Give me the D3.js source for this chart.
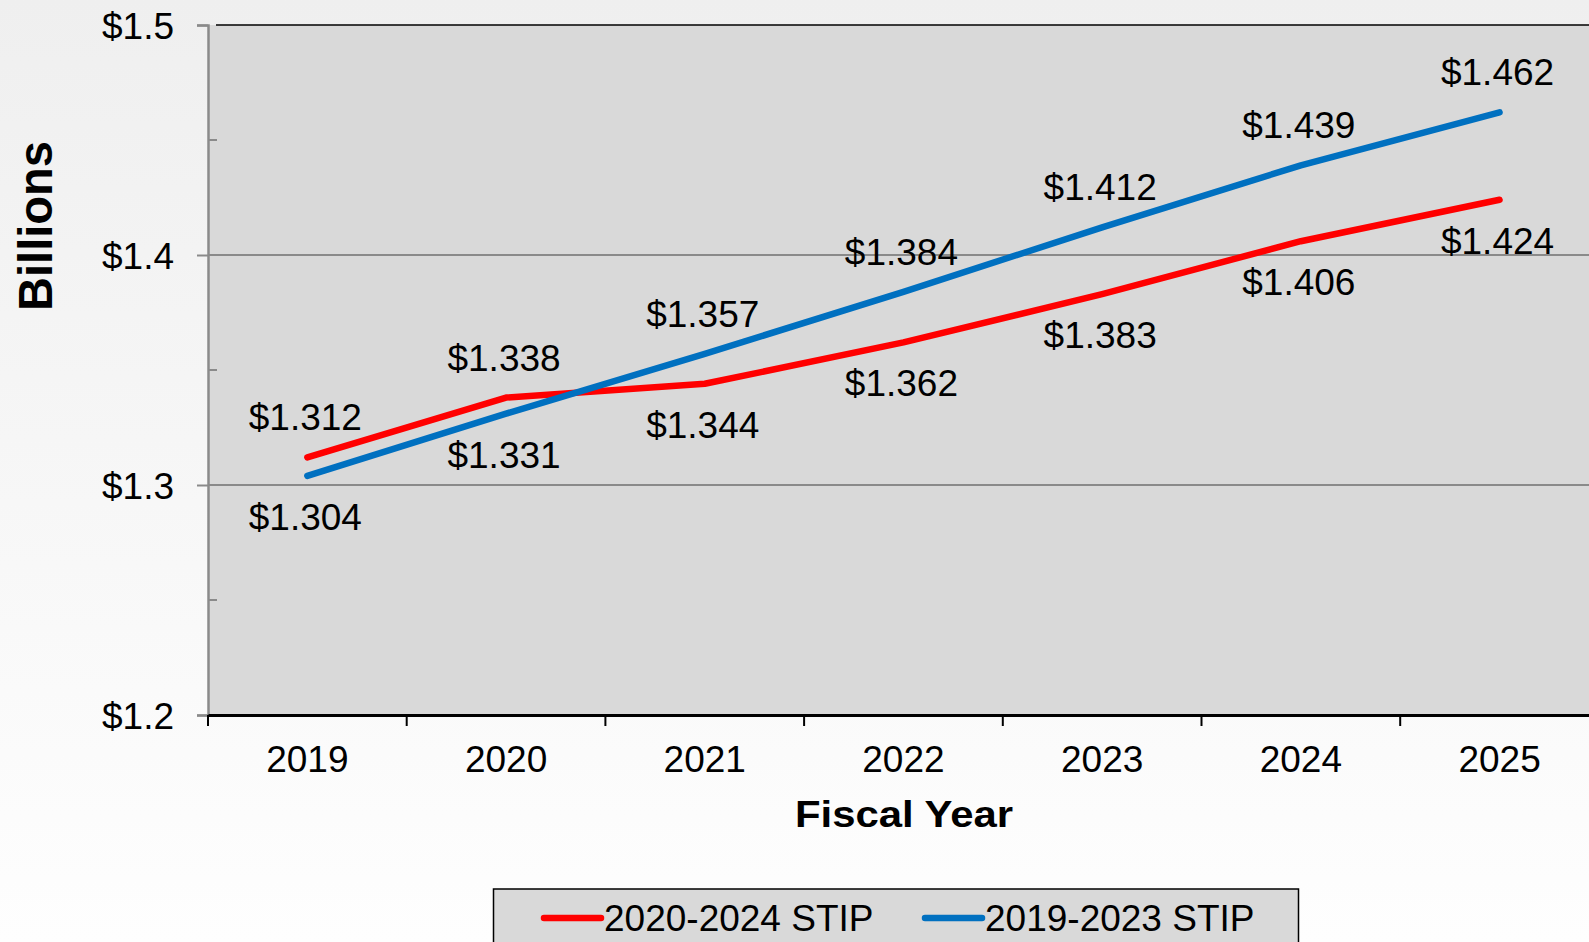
<!DOCTYPE html>
<html>
<head>
<meta charset="utf-8">
<script src="https://cdn.jsdelivr.net/npm/d3@7"></script>
<style>
  html, body { margin: 0; padding: 0; overflow: hidden; }
  text { font-family: "Liberation Sans", Arial, sans-serif; }
</style>
</head>
<body>
<script>
const years = ['2019', '2020', '2021', '2022', '2023', '2024', '2025'];
const stip2020 = [1.312, 1.338, 1.344, 1.362, 1.383, 1.406, 1.424];
const stip2019 = [1.304, 1.331, 1.357, 1.384, 1.412, 1.439, 1.462];
const seriesNames = ['2020-2024 STIP', '2019-2023 STIP'];
const yTicks = [1.2, 1.3, 1.4, 1.5];
const yMinorTicks = [1.25, 1.35, 1.45];

const svgSize = {width: 1589, height: 942};
const plot = {left: 208, top: 25, bottom: 715, bandWidth: 198.7};

const series = [
	{name: seriesNames[0], values: stip2020, color: '#ff0000'},
	{name: seriesNames[1], values: stip2019, color: '#0070c0'}
];

const svg = d3.select('body').append('svg')
	.attr('width', svgSize.width)
	.attr('height', svgSize.height);

// page background gradient
const grad = svg.append('defs').append('linearGradient')
	.attr('id', 'bg').attr('x1', 0).attr('y1', 0).attr('x2', 0).attr('y2', 1);
grad.append('stop').attr('offset', '0%').attr('stop-color', '#efefef');
grad.append('stop').attr('offset', '100%').attr('stop-color', '#fefefe');
svg.append('rect').attr('width', svgSize.width).attr('height', svgSize.height).attr('fill', 'url(#bg)');

const x = d3.scaleBand()
	.domain(years)
	.range([plot.left, plot.left + plot.bandWidth * years.length]);
const y = d3.scaleLinear()
	.domain([1.2, 1.5])
	.range([plot.bottom, plot.top]);

// plot area
svg.append('rect')
	.attr('x', plot.left).attr('y', plot.top)
	.attr('width', x.range()[1] - plot.left).attr('height', plot.bottom - plot.top)
	.attr('fill', '#d9d9d9');

// gridlines
svg.append('g').selectAll('line')
	.data([1.3, 1.4])
	.enter().append('line')
	.attr('x1', plot.left).attr('x2', x.range()[1])
	.attr('y1', d => y(d)).attr('y2', d => y(d))
	.attr('stroke', '#8a8a8a').attr('stroke-width', 2);

// top border
svg.append('line')
	.attr('x1', plot.left + 8).attr('x2', x.range()[1])
	.attr('y1', plot.top).attr('y2', plot.top)
	.attr('stroke', '#000').attr('stroke-width', 1.5);

// y axis
const yAxis = svg.append('g')
	.attr('transform', `translate(${plot.left}, 0)`)
	.call(d3.axisLeft(y).tickValues(yTicks).tickSize(11).tickFormat(d3.format('$.1f')));
yAxis.select('.domain').attr('stroke', '#8a8a8a').attr('stroke-width', 2.5);
yAxis.selectAll('.tick line').attr('stroke', '#8a8a8a').attr('stroke-width', 2);
yAxis.selectAll('.tick text')
	.attr('x', -34).attr('dy', '0.36em')
	.attr('font-size', 37).attr('fill', '#000')
	.attr('font-family', '"Liberation Sans", Arial, sans-serif');

svg.append('g').selectAll('line')
	.data(yMinorTicks)
	.enter().append('line')
	.attr('x1', plot.left).attr('x2', plot.left + 9)
	.attr('y1', d => y(d)).attr('y2', d => y(d))
	.attr('stroke', '#8a8a8a').attr('stroke-width', 2);

// x axis
const xAxis = svg.append('g')
	.attr('transform', `translate(0, ${plot.bottom})`)
	.call(d3.axisBottom(x).tickSize(0).tickPadding(0));
xAxis.select('.domain').attr('stroke', '#000').attr('stroke-width', 3);
xAxis.selectAll('.tick text')
	.attr('y', 57).attr('dy', 0)
	.attr('font-size', 37).attr('fill', '#000')
	.attr('font-family', '"Liberation Sans", Arial, sans-serif');
svg.append('g').selectAll('line')
	.data(years)
	.enter().append('line')
	.attr('x1', d => x(d)).attr('x2', d => x(d))
	.attr('y1', plot.bottom).attr('y2', plot.bottom + 11)
	.attr('stroke', '#000').attr('stroke-width', 2);

// lines
const line = d3.line()
	.x((d, i) => x(years[i]) + x.bandwidth() / 2)
	.y(d => y(d));

svg.append('g').selectAll('path')
	.data(series)
	.enter().append('path')
	.attr('d', d => line(d.values))
	.attr('fill', 'none')
	.attr('stroke', d => d.color)
	.attr('stroke-width', 6.5)
	.attr('stroke-linecap', 'round')
	.attr('stroke-linejoin', 'round');

// data labels: higher series above, lower below
const labels = [];
series.forEach((s, si) => {
	s.values.forEach((v, i) => {
		const other = series[1 - si].values[i];
		labels.push({year: years[i], value: v, above: v > other});
	});
});
svg.append('g').selectAll('text')
	.data(labels)
	.enter().append('text')
	.attr('x', d => x(d.year) + x.bandwidth() / 2 - 2)
	.attr('y', d => d.above ? y(d.value) - 27 : y(d.value) + 54)
	.attr('text-anchor', 'middle')
	.attr('font-size', 37)
	.text(d => d3.format('$.3f')(d.value));

// axis titles
svg.append('text')
	.attr('x', 904).attr('y', 827)
	.attr('text-anchor', 'middle')
	.attr('font-size', 36).attr('font-weight', 'bold')
	.attr('textLength', 218).attr('lengthAdjust', 'spacingAndGlyphs')
	.text('Fiscal Year');

svg.append('text')
	.attr('transform', 'translate(52, 226) rotate(-90)')
	.attr('text-anchor', 'middle')
	.attr('font-size', 48).attr('font-weight', 'bold')
	.attr('textLength', 170).attr('lengthAdjust', 'spacingAndGlyphs')
	.text('Billions');

// legend
const legend = svg.append('g');
legend.append('rect')
	.attr('x', 493.5).attr('y', 889)
	.attr('width', 805).attr('height', 70)
	.attr('fill', '#d9d9d9').attr('stroke', '#000').attr('stroke-width', 1.5);

const legendX = [544, 925];
const item = legend.selectAll('g.item')
	.data(series)
	.enter().append('g')
	.attr('class', 'item')
	.attr('transform', (d, i) => `translate(${legendX[i]}, 918)`);
item.append('line')
	.attr('x1', 0).attr('x2', 57)
	.attr('stroke', d => d.color).attr('stroke-width', 6.5)
	.attr('stroke-linecap', 'round');
item.append('text')
	.attr('x', 60).attr('y', 13)
	.attr('font-size', 37)
	.text(d => d.name);
</script>
</body>
</html>
